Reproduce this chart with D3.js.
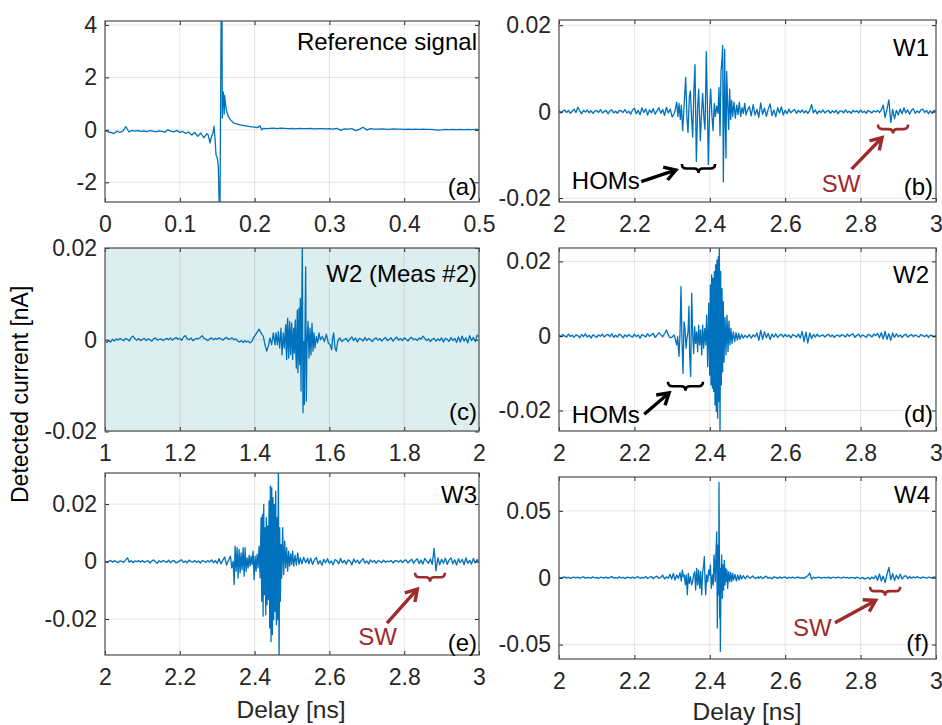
<!DOCTYPE html>
<html>
<head>
<meta charset="utf-8">
<script src="https://cdn.jsdelivr.net/npm/d3@7"></script>
<style>
  body { margin: 0; background: #fff; }
  text { font-family: "Liberation Sans", Arial, Helvetica, sans-serif; }
</style>
</head>
<body>
<svg id="chart" width="942" height="725"></svg>
<script>
// ---- data ----
// reference signal, nA
const refPre = [-0.02,-0.08,-0.1,-0.14,-0.05,-0.1,-0.04,0.12,-0.08,-0.02,-0.05,-0.03,-0.06,-0.04,-0.07,-0.03,-0.05,-0.08,-0.04,-0.06,-0.09,0.0,-0.05,-0.08,-0.02,-0.1,-0.06,-0.14,-0.08,-0.2,-0.1,-0.25,-0.12,-0.3,-0.15];
const refBurst = [[0.138,-0.2],[0.1404,-0.5],[0.142,-0.3],[0.1445,-0.1],[0.1457,0.14],[0.147,-0.3],[0.1484,-0.95],[0.150,-1.05],[0.1515,-1.4],[0.1535,-4],[0.1560,8],[0.1568,0.45],[0.158,1.45],[0.1588,1.3],[0.1594,0.6],[0.160,1.3],[0.1615,0.9],[0.1627,0.7],[0.165,0.5],[0.168,0.38],[0.1716,0.27],[0.176,0.23],[0.1805,0.19],[0.186,0.16],[0.192,0.13],[0.197,0.11],[0.2028,0.09],[0.205,0.1],[0.2072,0.16],[0.2095,0.0],[0.212,0.06],[0.216,0.05]];
const refPost = [0.06,0.07,0.05,0.07,0.06,0.05,0.06,0.04,0.06,0.05,0.05,0.06,0.04,0.05,0.05,0.04,0.05,
  0.03,0.06,-0.02,0.04,0.03,0.05,-0.03,0.02,0.1,0.0,0.05,0.03,
  0.03,0.04,0.03,0.02,0.04,0.03,0.03,0.02,0.03,0.02,0.03,0.02,0.03,0.02,0.02,0.01,-0.01,0.0,0.02,0.01,0.02,0.01,0.02,0.01,0.02,0.01,0.02,0.02];

// W1, pA
const w1Pre = [0.2,-0.3,0.1,0.4,-0.2,0.3,-0.4,0.1,0.6,-0.2,
  1.0,0.2,-0.5,0.3,-0.1,0.4,-0.3,0.2,-0.4,0.1,
  0.3,-0.2,0.5,-0.3,0.0,0.3,-0.5,0.2,0.4,-0.3,
  0.1,-0.4,0.3,0.2,-0.2,0.5,-0.3,0.1,-0.6,0.4,
  0.8,-0.5,0.3,-0.7,0.9,-0.2,0.6,-0.8,0.4,-0.3,
  0.7,-0.6,0.2,0.9,-0.4,0.5,-0.9,1.0,-0.3,0.6,
  -1.2,-0.5];
const w1Burst = [[2.3077,0.1],[2.3121,2.2],[2.3156,-1.1],[2.3183,1.9],[2.3218,-1.8],[2.3245,1.5],[2.3280,-4.4],[2.3316,1.1],[2.3360,7.9],[2.3395,-1.8],[2.3422,-4.8],[2.3457,3.3],[2.3484,4.8],[2.3519,-1.8],[2.3546,-5.9],[2.3581,5.6],[2.3607,10.9],[2.3643,-11.5],[2.3678,1.1],[2.3705,5.2],[2.3749,-6.7],[2.3785,0.4],[2.3811,4.2],[2.3846,-1.8],[2.3873,-4.1],[2.3908,13.9],[2.3935,1.9],[2.3961,-12.2],[2.3997,1.1],[2.4023,5.2],[2.4058,-1.1],[2.4085,-4.4],[2.4120,1.9],[2.4147,-1.1],[2.4182,1.3],[2.4217,-0.4],[2.4244,5.6],[2.4271,-5.6],[2.4297,9.3],[2.4324,12.2],[2.4341,15.3],[2.4359,-16.3],[2.4377,-1.8],[2.4394,14.4],[2.4412,-1.8],[2.4430,-10.7],[2.4447,9.3],[2.4474,1.9],[2.4500,-4.1],[2.4527,5.2],[2.4553,-1.8],[2.4580,2.6],[2.4607,-1.1],[2.4642,2.2],[2.4677,-1.5],[2.4713,1.5],[2.4748,-0.7],[2.4783,2.2],[2.4819,-1.1],[2.4854,0.9],[2.4889,-0.4],[2.4925,1.9],[2.4960,-0.8],[2.4995,0.3]];
const w1Post = [1.2,-1.0,1.6,-0.8,0.5,-1.3,2.0,-0.6,0.8,-1.1,
  0.6,1.8,-0.9,0.4,-1.2,0.9,-0.3,1.1,-0.8,0.3,
  -0.5,0.6,-0.3,0.2,0.5,-0.4,0.3,-0.2,0.4,-0.3,
  0.2,-0.4,0.3,1.6,-0.3,0.4,-0.5,0.2,-0.2,0.4,
  -0.3,0.1,0.3,-0.4,0.2,-0.2,0.3,-0.5,0.1,0.2,
  -0.3,0.4,-0.2,0.1,-0.4,0.3,-0.1,0.2,-0.3,0.4,
  -0.2,0.1,-0.4,0.3,0.0,-0.3,0.2,-0.1,0.3,-0.2,
  0.4,1.5,-1.4,0.6,2.7,-2.5,0.5,-1.6,0.3,-0.8,
  0.6,-0.5,0.9,-0.3,0.4,-0.6,0.3,0.7,-0.4,0.2,
  -0.3,0.4,0.6,-0.2,0.3,-0.5,0.2,-0.4,0.3,0.0];

// W2, measurement #2, pA
const w2mPre = [-0.4,-0.6,-0.2,-0.5,0.1,-0.3,0.2,-0.1,0.3,0.0,
  -0.2,0.3,0.1,-0.3,0.5,0.8,0.2,-0.1,0.3,-0.2,
  0.1,0.3,-0.2,0.2,0.0,-0.3,0.2,0.4,-0.1,0.1,
  0.2,-0.2,0.1,0.3,0.0,0.4,-0.1,0.2,0.5,0.1,
  0.3,-0.1,0.6,0.9,0.2,0.0,0.4,-0.2,0.1,0.3,
  0.2,0.5,0.9,0.3,0.1,-0.2,0.2,0.4,0.0,0.3,
  0.1,0.4,0.2,-0.1,0.3,0.5,0.1,0.2,0.4,0.0,
  0.2,-0.3,-0.5,-0.2,-0.6];
const w2mBurst = [[1.3743,-0.2],[1.378,-0.5],[1.383,-0.3],[1.387,-0.7],[1.3922,-0.4],[1.397,0.4],[1.4016,1.0],[1.4056,1.5],[1.4118,2.3],[1.4171,1.5],[1.4234,0.7],[1.4278,-1.1],[1.4323,-2.5],[1.4367,-1.4],[1.4412,0.4],[1.4456,-1.1],[1.4501,1.5],[1.4545,-1.1],[1.4572,1.5],[1.4608,-1.1],[1.4635,1.8],[1.467,-1.8],[1.4706,2.5],[1.4733,-3.3],[1.4768,1.5],[1.4795,-1.8],[1.4831,3.3],[1.4845,-2.0],[1.4857,-4.3],[1.4870,2.5],[1.4884,4.7],[1.4898,-1.5],[1.4911,-4.0],[1.4925,1.8],[1.4938,4.0],[1.4951,-1.0],[1.4964,-3.3],[1.4978,2.0],[1.4991,3.6],[1.5005,-1.2],[1.5018,-4.3],[1.5032,1.0],[1.5045,2.5],[1.5062,-2.9],[1.5075,1.5],[1.5089,4.3],[1.5102,-2.5],[1.5116,-6.2],[1.5130,2.0],[1.5143,6.5],[1.516,-7.2],[1.5187,6.9],[1.5205,-5.4],[1.5223,9.0],[1.5241,-11.2],[1.5259,6.2],[1.5276,20.5],[1.5294,-15.9],[1.5312,-0.4],[1.533,-14.1],[1.5348,2.5],[1.5366,15.9],[1.5383,-13.4],[1.5401,-1.1],[1.5428,4.0],[1.5455,-4.0],[1.5481,2.5],[1.5508,-3.3],[1.5535,3.6],[1.5562,-2.5],[1.5588,1.5],[1.5615,-1.8],[1.5651,0.7],[1.5686,-0.7],[1.5722,1.5],[1.5758,0.0],[1.5811,0.7],[1.5865,-0.4],[1.5918,1.2],[1.5971,-0.7],[1.6025,-1.1],[1.6061,-2.2],[1.6087,0.4],[1.6114,1.5],[1.615,-1.8],[1.6185,-2.5],[1.6221,-0.4],[1.6275,0.4],[1.6328,-0.4],[1.639,0.0]];
const w2mPost = [0.3,-0.4,0.2,0.6,-0.2,0.4,-0.5,0.3,0.1,-0.3,
  0.5,-0.2,0.3,0.0,-0.4,0.2,0.4,-0.1,0.3,-0.3,
  0.2,0.5,-0.2,0.1,0.4,-0.3,0.2,0.6,-0.1,0.3,
  -0.2,0.4,0.1,-0.3,0.3,0.5,0.0,0.2,-0.2,0.4,
  0.1,0.8,0.3,-0.2,0.2,-0.4,0.1,0.3,-0.3,0.2,
  -0.2,0.4,-0.5,0.3,0.1,-0.4,0.5,-0.2,0.3,-0.6,
  0.6,-0.5,0.8,-0.3,0.4,-0.7,0.9,-0.2,0.5,-0.4,
  1.0,0.6];

// W2, pA
const w2Pre = [0.3,-0.2,0.4,0.0,-0.3,0.5,-0.1,0.2,-0.4,0.3,
  0.1,-0.5,0.4,-0.2,0.6,-0.3,0.2,-0.6,0.3,0.0,
  -0.4,0.3,-0.1,0.5,-0.3,0.2,0.4,-0.2,0.6,-0.4,
  0.2,-0.3,0.5,0.1,-0.5,0.3,-0.2,0.4,0.0,-0.3,
  0.5,-0.2,0.3,-0.6,0.4,0.1,-0.3,0.6,-0.1,0.3,
  0.7,-0.4,0.2,0.9,0.3,-0.2,0.6,1.6,0.2,-0.5,
  -0.3];
const w2Burst = [[2.3050,0.3],[2.3077,-0.5],[2.3121,-2.4],[2.3148,-0.2],[2.3183,-5.5],[2.3210,0.7],[2.3236,13.2],[2.3263,-1.5],[2.3289,-10.0],[2.3316,3.8],[2.3342,2.0],[2.3369,-3.3],[2.3395,-0.6],[2.3422,1.1],[2.3448,7.9],[2.3466,-5.1],[2.3493,-10.9],[2.3519,11.5],[2.3546,0.7],[2.3572,-4.7],[2.3599,2.5],[2.3625,-2.0],[2.3652,1.1],[2.3678,-4.2],[2.3705,2.9],[2.3731,-2.4],[2.3758,1.6],[2.3785,-5.1],[2.3811,2.9],[2.3838,-3.3],[2.3864,2.0],[2.3891,-2.4],[2.3917,5.6],[2.3944,-8.2],[2.3971,8.8],[2.3997,-10.5],[2.4015,13.7],[2.4032,-13.1],[2.4050,16.4],[2.4068,-14.0],[2.4085,15.5],[2.4103,-14.9],[2.4120,17.3],[2.4138,-18.5],[2.4156,19.1],[2.4173,-20.3],[2.4191,20.4],[2.4209,-22.1],[2.4226,21.3],[2.4244,-17.6],[2.4253,27],[2.4271,-28],[2.4288,17.3],[2.4306,-13.1],[2.4324,12.7],[2.4341,-9.6],[2.4359,9.2],[2.4377,-7.0],[2.4403,5.0],[2.4430,-5.1],[2.4456,5.6],[2.4483,-4.2],[2.4509,4.0],[2.4536,-2.4],[2.4562,2.0],[2.4589,-2.0],[2.4624,1.1],[2.4660,-1.5],[2.4695,0.9],[2.4730,-1.1],[2.4766,0.7],[2.4801,-0.9],[2.4845,0.4],[2.4889,-0.6],[2.4934,0.2],[2.4996,-0.4]];
const w2Post = [0.4,-0.6,0.3,-0.2,0.8,-1.2,1.5,-0.9,1.1,-0.5,
  0.7,-1.0,0.5,-0.3,0.6,-0.4,0.2,0.5,-0.3,0.4,
  -0.2,0.3,-0.5,0.4,0.1,-0.3,0.5,-0.6,1.2,-1.5,
  1.0,-1.9,0.8,-0.7,0.4,-0.3,0.5,-0.2,0.1,0.3,
  -0.3,0.2,0.4,-0.2,0.3,-0.4,0.1,0.3,-0.2,0.4,
  0.1,-0.3,0.5,-0.1,0.3,0.6,-0.4,0.2,0.5,-0.3,
  0.3,0.0,-0.4,0.4,0.2,-0.3,0.5,0.1,0.7,-0.5,
  0.9,-0.8,1.2,-0.9,0.6,-1.2,0.8,-0.4,0.6,-0.2,
  0.3,-0.4,0.2,0.5,-0.3,0.1,0.4,-0.2,0.3,0.0,
  -0.3,0.4,0.1,-0.2,0.3,-0.4,0.2,0.1,-0.3,0.2];

// W3, pA
const w3Pre = [0.2,-0.3,0.1,0.4,-0.2,0.3,0.0,-0.4,0.2,0.1,
  -0.3,0.5,1.3,-0.2,0.3,-0.4,0.2,0.0,0.3,-0.2,
  0.4,-0.3,0.1,0.3,-0.5,0.2,0.6,-0.1,-0.6,0.3,
  -0.2,0.4,0.0,-0.3,0.5,-0.4,0.2,0.3,-0.5,-0.2,
  0.3,0.6,-0.3,0.2,-0.4,0.5,0.0,-0.2,0.4,-0.3,
  0.2,-0.5,0.3,0.1,-0.3,0.4,-0.2,0.6,-0.4,0.3,
  -0.6,1.0,-0.8,0.5,1.6,-1.2,0.4];
const w3Burst = [[2.3355,1.9],[2.3390,-2.2],[2.3426,0.1],[2.3453,-8.0],[2.3479,5.4],[2.3506,-3.4],[2.3533,4.8],[2.3559,-5.7],[2.3586,4.2],[2.3613,-3.9],[2.3639,3.0],[2.3666,-2.8],[2.3693,4.8],[2.3720,-5.1],[2.3746,4.8],[2.3773,-3.4],[2.3800,1.3],[2.3826,-2.2],[2.3853,2.2],[2.3880,-1.6],[2.3906,1.9],[2.3933,-1.0],[2.3960,3.6],[2.3986,-6.3],[2.4013,1.9],[2.4040,-3.4],[2.4066,2.5],[2.4093,-2.2],[2.4120,5.4],[2.4147,-5.7],[2.4173,15.3],[2.4191,-13.8],[2.4209,16.4],[2.4227,-19.0],[2.4244,19.9],[2.4262,-11.5],[2.4280,11.8],[2.4298,-18.5],[2.4315,15.3],[2.4333,-15.0],[2.4351,12.4],[2.4369,-13.2],[2.4387,21.1],[2.4404,-23.1],[2.4422,26.3],[2.4440,-27.8],[2.4458,25.7],[2.4476,-25.4],[2.4493,22.2],[2.4511,-20.2],[2.4529,19.9],[2.4547,-17.3],[2.4564,24.5],[2.4582,-22.0],[2.4600,15.3],[2.4618,-20.2],[2.4636,36],[2.4654,-38],[2.4671,11.8],[2.4689,-13.8],[2.4707,5.9],[2.4725,-5.7],[2.4751,11.8],[2.4778,-4.5],[2.4805,7.1],[2.4831,-2.2],[2.4858,4.8],[2.4885,-3.4],[2.4911,3.6],[2.4938,-1.6],[2.4965,2.7],[2.4991,-1.0],[2.5018,3.6],[2.5045,-1.6],[2.5081,2.2],[2.5116,-1.2],[2.5152,3.0],[2.5187,-1.0],[2.5223,1.3],[2.5267,-0.8],[2.5312,1.5],[2.5365,-0.4],[2.5418,1.1]];
const w3Post = [-0.8,1.2,-1.0,0.6,1.4,-0.9,0.3,-1.3,0.8,-0.4,
  1.0,-0.6,0.2,-1.1,0.7,0.3,-0.8,1.1,-0.5,0.4,
  -0.9,0.6,0.2,-1.2,0.9,-0.3,0.5,-0.7,0.3,1.0,
  -0.5,0.2,-0.8,0.6,-0.2,0.4,-0.6,0.3,0.1,-0.4,
  0.5,-0.3,0.2,-0.1,0.4,-0.5,0.2,0.3,-0.2,0.5,
  -0.4,0.3,0.6,-0.5,0.2,0.8,-0.6,0.4,1.0,-0.7,
  0.5,-0.9,1.1,0.2,-0.6,0.9,-1.0,4.6,-3.2,1.3,
  -1.1,0.8,-0.6,1.2,-1.0,0.5,1.3,-0.8,0.6,-1.2,
  1.0,-0.4,0.8,-1.1,1.3,-0.6,0.4,-0.9,1.1,-0.5,
  0.7,-0.3];

// W4, pA
const w4Pre = [0.3,-0.5,0.2,0.6,-0.3,0.4,-0.6,0.1,0.5,-0.2,
  0.4,-0.4,0.2,0.7,-0.5,0.3,0.0,-0.4,0.6,-0.2,
  0.3,-0.6,0.4,0.1,-0.3,0.5,-0.5,0.2,0.8,-0.3,
  0.1,-0.4,0.6,-0.2,0.3,-0.7,0.4,0.2,-0.3,0.5,
  -0.4,0.3,0.8,-0.5,0.2,-0.3,1.0,-0.6,0.4,0.9,
  -0.8,0.5,1.2,-0.6,0.3,1.8,-1.0,0.6,-0.4];
const w4Burst = [[2.2944,2.5],[2.2989,-1.0],[2.3033,3.2],[2.3077,-1.7],[2.3121,2.0],[2.3165,-0.5],[2.3210,3.7],[2.3245,-2.5],[2.3271,5.7],[2.3298,0.7],[2.3324,2.0],[2.3351,-5.4],[2.3377,2.0],[2.3404,-12.8],[2.3430,3.2],[2.3457,-4.2],[2.3484,0.7],[2.3519,-5.4],[2.3546,-2.9],[2.3572,2.0],[2.3599,4.5],[2.3625,-9.2],[2.3652,7.0],[2.3678,-5.4],[2.3705,5.7],[2.3731,-7.9],[2.3758,4.5],[2.3785,-12.8],[2.3811,4.5],[2.3838,9.5],[2.3855,15.8],[2.3873,-1.7],[2.3891,-12.8],[2.3917,2.0],[2.3944,-2.9],[2.3971,5.7],[2.3997,2.0],[2.4015,9.5],[2.4041,-7.9],[2.4068,2.0],[2.4094,-5.4],[2.4112,17.1],[2.4130,9.5],[2.4147,-2.9],[2.4165,19.6],[2.4183,34.2],[2.4200,-37.6],[2.4218,24.3],[2.4236,-12.8],[2.4244,71.3],[2.4262,-30.2],[2.4271,7.0],[2.4280,-55.0],[2.4297,2.0],[2.4315,17.1],[2.4333,-15.3],[2.4350,9.5],[2.4368,-9.2],[2.4386,13.0],[2.4403,-5.4],[2.4421,7.0],[2.4439,-2.9],[2.4456,5.7],[2.4474,-7.9],[2.4500,4.5],[2.4527,-2.9],[2.4553,3.9],[2.4580,-2.9],[2.4607,3.2],[2.4633,-1.7],[2.4668,2.5],[2.4704,-2.5],[2.4739,2.0],[2.4775,-1.7],[2.4810,2.0],[2.4845,-1.0],[2.4889,1.5],[2.4943,-1.0],[2.4996,1.5],[2.5066,-0.5],[2.5137,1.25],[2.5208,-0.7],[2.5287,0.7]];
const w4Post = [-0.5,0.9,-0.7,0.4,1.2,-0.6,0.3,-0.9,0.7,0.2,
  -0.5,0.6,-0.3,0.2,0.5,-0.6,0.3,-0.2,0.4,-0.4,
  0.2,0.5,-0.3,0.1,-0.5,0.6,1.5,3.5,-1.2,0.4,
  -0.3,0.2,0.5,-0.4,0.1,0.3,-0.2,0.4,-0.5,0.2,
  0.3,-0.2,0.4,0.0,-0.3,0.5,-0.1,0.2,-0.4,0.3,
  0.1,-0.5,0.4,-0.2,-0.8,0.3,-1.0,-0.4,0.2,-1.2,
  0.5,-0.8,1.5,-1.9,2.8,-2.5,1.2,-3.7,2.4,7.7,
  -1.5,3.0,-2.2,1.8,-0.9,2.6,-1.0,0.8,1.6,-0.6,
  0.9,-0.4,0.6,-0.2,0.8,0.1,-0.3,0.5,0.2,-0.4,
  0.4,0.1,-0.2,0.6,0.3];

// ticks
const refXTicks = [0, 0.1, 0.2, 0.3, 0.4, 0.5];
const refXLabels = ["0", "0.1", "0.2", "0.3", "0.4", "0.5"];
const refYTicks = [-2, 0, 2, 4];
const refYLabels = ["-2", "0", "2", "4"];
const measXTicks = [1, 1.2, 1.4, 1.6, 1.8, 2];
const measXLabels = ["1", "1.2", "1.4", "1.6", "1.8", "2"];
const wXTicks = [2, 2.2, 2.4, 2.6, 2.8, 3];
const wXLabels = ["2", "2.2", "2.4", "2.6", "2.8", "3"];
const pa20Ticks = [-20, 0, 20];
const pa20Labels = ["-0.02", "0", "0.02"];
const pa50Ticks = [-50, 0, 50];
const pa50Labels = ["-0.05", "0", "0.05"];

// ---- drawing ----
function buildSeries(pre, t0, dt0, burst, post, t1, dt1) {
  const pts = pre.map((v, i) => [t0 + i * dt0, v]);
  burst.forEach(p => pts.push(p));
  post.forEach((v, i) => pts.push([t1 + i * dt1, v]));
  return pts;
}

const FONT = '"Liberation Sans", Arial, Helvetica, sans-serif';
const LINE = "#0072BD";
const RED = "#9e2a2b";

const panels = [
  { id: "a", l: 105, t: 21, r: 479, b: 202, xDom: [0, 0.5], yDom: [-2.75, 4.15],
    xT: refXTicks, xL: refXLabels, yT: refYTicks, yL: refYLabels,
    data: buildSeries(refPre, 0, 0.004, refBurst, refPost, 0.22, 0.005),
    title: "Reference signal", titleX: 477, titleY: 50, tag: "(a)", tagX: 477, tagY: 195 },
  { id: "b", l: 559, t: 20, r: 936, b: 202, xDom: [2, 3], yDom: [-20.9, 21.2],
    xT: wXTicks, xL: wXLabels, yT: pa20Ticks, yL: pa20Labels,
    data: buildSeries(w1Pre, 2, 0.005, w1Burst, w1Post, 2.505, 0.005),
    title: "W1", titleX: 929, titleY: 56, tag: "(b)", tagX: 933, tagY: 195 },
  { id: "c", l: 105, t: 248, r: 479, b: 431, xDom: [1, 2], yDom: [-19.9, 20], bg: "#ddeeee",
    xT: measXTicks, xL: measXLabels, yT: pa20Ticks, yL: pa20Labels,
    data: buildSeries(w2mPre, 1, 0.005, w2mBurst, w2mPost, 1.645, 0.005),
    title: "W2 (Meas #2)", titleX: 477, titleY: 282, tag: "(c)", tagX: 477, tagY: 420 },
  { id: "d", l: 559, t: 248, r: 936, b: 431, xDom: [2, 3], yDom: [-25.5, 23.6],
    xT: wXTicks, xL: wXLabels, yT: pa20Ticks, yL: pa20Labels,
    data: buildSeries(w2Pre, 2, 0.005, w2Burst, w2Post, 2.505, 0.005),
    title: "W2", titleX: 929, titleY: 283, tag: "(d)", tagX: 933, tagY: 422 },
  { id: "e", l: 105, t: 473, r: 479, b: 655, xDom: [2, 3], yDom: [-32.5, 30.8],
    xT: wXTicks, xL: wXLabels, yT: pa20Ticks, yL: pa20Labels,
    data: buildSeries(w3Pre, 2, 0.005, w3Burst, w3Post, 2.545, 0.005),
    title: "W3", titleX: 477, titleY: 503, tag: "(e)", tagX: 477, tagY: 651 },
  { id: "f", l: 559, t: 477, r: 936, b: 659, xDom: [2, 3], yDom: [-60.8, 75.3],
    xT: wXTicks, xL: wXLabels, yT: pa50Ticks, yL: pa50Labels,
    data: buildSeries(w4Pre, 2, 0.005, w4Burst, w4Post, 2.53, 0.005),
    title: "W4", titleX: 930, titleY: 503, tag: "(f)", tagX: 929, tagY: 651 }
];

// annotations, given in each panel's data units
const notes = [
  { panel: "b", label: "HOMs", color: "#000", tx: 2.034, ty: -18.0, brace: [2.326, 2.414, -12.1], arrow: [2.218, -16.2, 2.31, -13.5] },
  { panel: "b", label: "SW", color: RED, tx: 2.697, ty: -18.7, brace: [2.846, 2.926, -3.0], arrow: [2.776, -13.3, 2.857, -6.0] },
  { panel: "d", label: "HOMs", color: "#000", tx: 2.034, ty: -23.3, brace: [2.289, 2.382, -12.3], arrow: [2.226, -21.0, 2.292, -15.3] },
  { panel: "e", label: "SW", color: RED, tx: 2.677, ty: -29.0, brace: [2.829, 2.909, -3.9], arrow: [2.754, -21.4, 2.835, -9.6] },
  { panel: "f", label: "SW", color: RED, tx: 2.621, ty: -43.8, brace: [2.825, 2.905, -6.7], arrow: [2.732, -33.7, 2.84, -17.0] }
];

const svg = d3.select("#chart");
svg.append("rect").attr("width", 942).attr("height", 725).attr("fill", "#fff");
const defs = svg.append("defs");
const scales = {};

panels.forEach(p => {
  const x = d3.scaleLinear().domain(p.xDom).range([p.l, p.r]);
  const y = d3.scaleLinear().domain(p.yDom).range([p.b, p.t]);
  scales[p.id] = { x, y };
  const g = svg.append("g").attr("class", "panel-" + p.id);

  g.append("rect")
    .attr("x", p.l).attr("y", p.t)
    .attr("width", p.r - p.l).attr("height", p.b - p.t)
    .attr("fill", p.bg || "#fff");

  // grid
  const grid = g.append("g").attr("stroke", "#262626").attr("stroke-opacity", 0.12).attr("stroke-width", 1);
  grid.selectAll("line.gx").data(p.xT.filter(d => d > p.xDom[0] && d < p.xDom[1])).join("line")
    .attr("x1", d => x(d)).attr("x2", d => x(d)).attr("y1", p.t).attr("y2", p.b);
  grid.selectAll("line.gy").data(p.yT).join("line")
    .attr("x1", p.l).attr("x2", p.r).attr("y1", d => y(d)).attr("y2", d => y(d));

  defs.append("clipPath").attr("id", "clip-" + p.id)
    .append("rect").attr("x", p.l).attr("y", p.t)
    .attr("width", p.r - p.l).attr("height", p.b - p.t);

  g.append("path")
    .datum(p.data)
    .attr("clip-path", `url(#clip-${p.id})`)
    .attr("fill", "none")
    .attr("stroke", LINE)
    .attr("stroke-width", 1.3)
    .attr("stroke-linejoin", "round")
    .attr("d", d3.line().x(d => x(d[0])).y(d => y(d[1])));

  const styleAxis = a => {
    a.select(".domain").remove();
    a.selectAll(".tick line").attr("stroke", "#262626");
    a.selectAll(".tick text").attr("fill", "#262626");
    a.attr("font-family", FONT).attr("font-size", 23);
  };

  g.append("g").attr("transform", `translate(0,${p.b})`)
    .call(d3.axisBottom(x).tickValues(p.xT).tickFormat((d, i) => p.xL[i]).tickSizeInner(-4).tickSizeOuter(0).tickPadding(14))
    .call(styleAxis);
  g.append("g").attr("transform", `translate(0,${p.t})`)
    .call(d3.axisTop(x).tickValues(p.xT).tickFormat("").tickSizeInner(-4).tickSizeOuter(0))
    .call(styleAxis);
  g.append("g").attr("transform", `translate(${p.l},0)`)
    .call(d3.axisLeft(y).tickValues(p.yT).tickFormat((d, i) => p.yL[i]).tickSizeInner(-4).tickSizeOuter(0).tickPadding(8))
    .call(styleAxis);
  g.append("g").attr("transform", `translate(${p.r},0)`)
    .call(d3.axisRight(y).tickValues(p.yT).tickFormat("").tickSizeInner(-4).tickSizeOuter(0))
    .call(styleAxis);

  g.append("rect")
    .attr("x", p.l).attr("y", p.t)
    .attr("width", p.r - p.l).attr("height", p.b - p.t)
    .attr("fill", "none").attr("stroke", "#595959").attr("stroke-width", 1.3);

  g.append("text").attr("x", p.titleX).attr("y", p.titleY)
    .attr("text-anchor", "end").attr("font-size", 24).attr("fill", "#000").text(p.title);
  g.append("text").attr("x", p.tagX).attr("y", p.tagY)
    .attr("text-anchor", "end").attr("font-size", 24).attr("fill", "#000").text(p.tag);
});

// braces, arrows and their labels
notes.forEach(n => {
  const { x, y } = scales[n.panel];
  const g = svg.append("g");
  const x0 = x(n.brace[0]), x1 = x(n.brace[1]), yb = y(n.brace[2]);
  const h = 9, q = h / 2, m = (x0 + x1) / 2;
  g.append("path")
    .attr("d", `M${x0},${yb} Q${x0},${yb + q} ${x0 + q},${yb + q} L${m - q},${yb + q} Q${m},${yb + q} ${m},${yb + h} ` +
               `Q${m},${yb + q} ${m + q},${yb + q} L${x1 - q},${yb + q} Q${x1},${yb + q} ${x1},${yb}`)
    .attr("fill", "none").attr("stroke", n.color).attr("stroke-width", 2.6);

  const ax = x(n.arrow[0]), ay = y(n.arrow[1]), bx = x(n.arrow[2]), by = y(n.arrow[3]);
  const ang = Math.atan2(by - ay, bx - ax), L = 13, W = 0.55;
  g.append("line").attr("x1", ax).attr("y1", ay).attr("x2", bx - 2 * Math.cos(ang)).attr("y2", by - 2 * Math.sin(ang))
    .attr("stroke", n.color).attr("stroke-width", 3.4);
  g.append("path")
    .attr("d", `M${bx - L * Math.cos(ang - W)},${by - L * Math.sin(ang - W)} L${bx},${by} L${bx - L * Math.cos(ang + W)},${by - L * Math.sin(ang + W)}`)
    .attr("fill", "none").attr("stroke", n.color).attr("stroke-width", 3.4).attr("stroke-linejoin", "miter");

  g.append("text").attr("x", x(n.tx)).attr("y", y(n.ty))
    .attr("font-size", 24).attr("fill", n.color).text(n.label);
});

// axis titles
svg.append("text").attr("x", 291).attr("y", 718).attr("text-anchor", "middle")
  .attr("font-size", 24.5).attr("fill", "#262626").text("Delay [ns]");
svg.append("text").attr("x", 747).attr("y", 720).attr("text-anchor", "middle")
  .attr("font-size", 24.5).attr("fill", "#262626").text("Delay [ns]");
svg.append("text").attr("transform", "translate(28,503) rotate(-90)").attr("text-anchor", "start")
  .attr("font-size", 23).attr("fill", "#000").text("Detected current [nA]");
</script>
</body>
</html>
